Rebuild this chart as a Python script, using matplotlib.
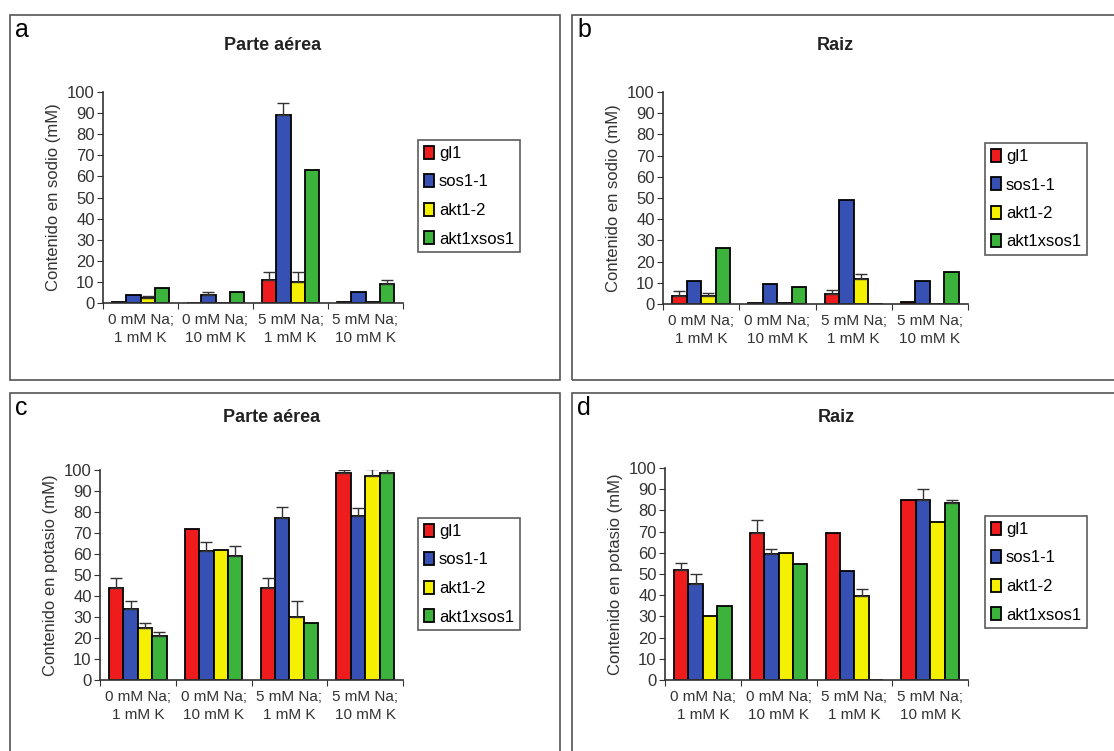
import matplotlib
matplotlib.use("Agg")
import matplotlib.pyplot as plt
from matplotlib.patches import Rectangle, Patch
import numpy as np

plt.rcParams['font.family'] = ['Liberation Sans', 'DejaVu Sans']

categories = ['0 mM Na;\n1 mM K', '0 mM Na;\n10 mM K', '5 mM Na;\n1 mM K', '5 mM Na;\n10 mM K']
genotypes = ['gl1', 'sos1-1', 'akt1-2', 'akt1xsos1']
colors = ['#ee1c1c', '#3650b4', '#f5f000', '#3cb43c']

# a: sodio, parte aerea  (values per genotype, one per condition)
sodio_aerea = [[0.5, 0.0, 11.0, 0.3],
               [4.0, 4.0, 89.0, 5.0],
               [2.5, 0.0, 10.0, 0.5],
               [7.0, 5.0, 63.0, 9.0]]
sodio_aerea_err = [[0, 0, 3.5, 0],
                   [0, 1, 6, 0],
                   [1, 0, 4.5, 0],
                   [0, 0, 0, 2]]

# b: sodio, raiz
sodio_raiz = [[4.0, 0.5, 4.5, 0.8],
              [11.0, 9.5, 49.0, 11.0],
              [4.0, 0.5, 12.0, 0.0],
              [26.5, 8.0, 0.0, 15.0]]
sodio_raiz_err = [[2, 0, 2, 0],
                  [0, 0, 0, 0],
                  [1, 0, 2, 0],
                  [0, 0, 0, 0]]

# c: potasio, parte aerea
potasio_aerea = [[44.0, 72.0, 44.0, 98.5],
                 [34.0, 61.5, 77.0, 78.0],
                 [25.0, 62.0, 30.0, 97.0],
                 [21.0, 59.0, 27.0, 98.5]]
potasio_aerea_err = [[4.5, 0, 4.5, 1.5],
                     [3.5, 4, 5.5, 4],
                     [2, 0, 7.5, 3.5],
                     [2, 5, 0, 2]]

# d: potasio, raiz
potasio_raiz = [[52.0, 69.5, 69.5, 85.0],
                [45.5, 59.5, 51.5, 85.0],
                [30.0, 60.0, 39.5, 74.5],
                [35.0, 54.5, 0.0, 83.5]]
potasio_raiz_err = [[3, 6, 0, 0],
                    [4.5, 2.5, 0, 5],
                    [0, 0, 3.5, 0],
                    [0, 0, 0, 1.5]]

W, H = 1114, 751
fig = plt.figure(figsize=(W / 100, H / 100), dpi=100)
fig.patch.set_facecolor('white')


def fx(px):
    return px / W


def fy(py):
    return 1 - py / H


def panel(letter, title, ylabel, data, err, frame, ax_px, title_y, leg_px):
    x0, y0, x1, y1 = frame
    fig.patches.append(Rectangle((fx(x0), fy(y1)), fx(x1) - fx(x0), fy(y0) - fy(y1),
                                 transform=fig.transFigure, fill=False,
                                 edgecolor='#555555', linewidth=1.2))
    fig.text(fx(x0 + 5), fy(y0 + 3), letter, fontsize=18, va='top', ha='left')
    left, zero, right, top = ax_px
    fig.text(fx((left + right) / 2 + 20), fy(title_y), title, fontsize=13,
             fontweight='bold', ha='center', va='center', color='#222222')
    ax = fig.add_axes([fx(left), fy(zero), fx(right) - fx(left), fy(top) - fy(zero)])
    x = np.arange(len(categories)) + 0.5
    bw = 0.19
    handles = []
    for i, g in enumerate(genotypes):
        pos = x + (i - 1.5) * bw
        ax.bar(pos, data[i], width=bw, color=colors[i], edgecolor='black',
               linewidth=1.3, zorder=2)
        e = np.array(err[i], dtype=float)
        m = e > 0
        if m.any():
            ax.errorbar(pos[m], np.array(data[i])[m],
                        yerr=[np.zeros(m.sum()), e[m]], fmt='none',
                        ecolor='#333333', elinewidth=1, capsize=4, zorder=3)
        handles.append(Patch(facecolor=colors[i], edgecolor='black', linewidth=1.3, label=g))
    ax.set_xlim(0, 4)
    ax.set_ylim(0, 100)
    ax.set_yticks(range(0, 101, 10))
    ax.set_xticks(range(5))
    ax.set_xticklabels([])
    ax.set_xticks(x, minor=True)
    ax.set_xticklabels(categories, minor=True, fontsize=11, color='#333333',
                       linespacing=1.35)
    ax.tick_params(axis='x', which='minor', length=0, pad=7)
    ax.tick_params(axis='x', which='major', length=4, direction='out', color='#333333')
    ax.tick_params(axis='y', length=4, labelsize=12, color='#333333', labelcolor='#333333', pad=2)
    for s in ['top', 'right']:
        ax.spines[s].set_visible(False)
    for s in ['left', 'bottom']:
        ax.spines[s].set_color('#333333')
        ax.spines[s].set_linewidth(1.2)
    ax.set_facecolor('none')
    ax.set_ylabel(ylabel, fontsize=12, color='#333333', labelpad=4)
    lx, ly = leg_px
    leg = fig.legend(handles=handles, loc='upper left',
                     bbox_to_anchor=(fx(lx), fy(ly)), bbox_transform=fig.transFigure,
                     fontsize=12, handlelength=0.6, handleheight=0.8, handletextpad=0.3,
                     labelspacing=0.8, borderpad=0.35, borderaxespad=0,
                     fancybox=False, frameon=True)
    leg.get_frame().set_edgecolor('#333333')
    leg.get_frame().set_linewidth(1.2)
    return ax


panel('a', 'Parte aérea', 'Contenido en sodio (mM)', sodio_aerea, sodio_aerea_err,
      (10, 15, 560, 380), (103, 303, 403, 92), 45, (418, 140))
panel('b', 'Raiz', 'Contenido en sodio (mM)', sodio_raiz, sodio_raiz_err,
      (572, 15, 1125, 380), (663, 304, 968, 92), 45, (985, 143))
panel('c', 'Parte aérea', 'Contenido en potasio (mM)', potasio_aerea, potasio_aerea_err,
      (10, 393, 560, 760), (100, 680, 403, 470), 418, (418, 518))
panel('d', 'Raiz', 'Contenido en potasio (mM)', potasio_raiz, potasio_raiz_err,
      (572, 393, 1125, 760), (665, 680, 968, 468), 418, (985, 516))

fig.savefig('out.png', dpi=100, facecolor='white')
